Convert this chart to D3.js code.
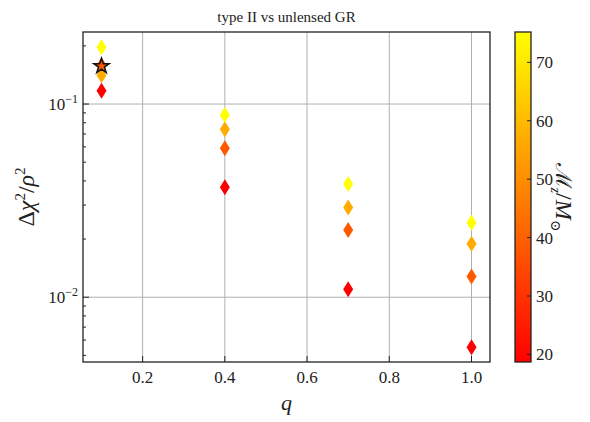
<!DOCTYPE html>
<html>
<head>
<meta charset="utf-8">
<script src="https://cdn.jsdelivr.net/npm/d3@7"></script>
<style>
  body { margin: 0; background: #fff; }
  text { font-family: "Liberation Serif", "DejaVu Serif", serif; fill: #222; }
</style>
</head>
<body>
<script>
// Data
const qValues = [0.1, 0.4, 0.7, 1.0];
const seriesMasses = [18.7, 38.5, 56.5, 75.2];
const seriesValues = [
  [0.117, 0.0371, 0.011, 0.0055],
  [0.159, 0.059, 0.0223, 0.0128],
  [0.141, 0.074, 0.0291, 0.0189],
  [0.197, 0.0877, 0.0385, 0.0243],
];
const starPoint = { q: 0.1, value: 0.159, mass: 38.5 };
const xTicks = [0.2, 0.4, 0.6, 0.8, 1.0];
const yMajorTicks = [0.01, 0.1];
const yMinorTicks = [0.005, 0.006, 0.007, 0.008, 0.009, 0.02, 0.03, 0.04, 0.05, 0.06, 0.07, 0.08, 0.09, 0.2];
const yTickExponents = ["\u22122", "\u22121"];
const cbarTicks = [20, 30, 40, 50, 60, 70];

const width = 590;
const height = 422;
const plot = { left: 83, right: 490, top: 32, bottom: 362 };
const cbar = { left: 515, right: 531 };

const svg = d3.select("body").append("svg")
  .attr("width", width)
  .attr("height", height);

const x = d3.scaleLinear().domain([0.055, 1.045]).range([plot.left, plot.right]);
const y = d3.scaleLog().domain([0.00462, 0.236]).range([plot.bottom, plot.top]);
const massExtent = d3.extent(seriesMasses);
const color = d3.scaleLinear().domain(massExtent).range(["#ff0000", "#ffff00"]);
const cbarScale = d3.scaleLinear().domain(massExtent).range([plot.bottom, plot.top]);

// Grid
const grid = svg.append("g").attr("stroke", "#b0b0b0").attr("stroke-width", 1);
grid.selectAll(".gx").data(xTicks).enter().append("line")
  .attr("x1", d => x(d)).attr("x2", d => x(d))
  .attr("y1", plot.top).attr("y2", plot.bottom);
grid.selectAll(".gy").data(yMajorTicks).enter().append("line")
  .attr("x1", plot.left).attr("x2", plot.right)
  .attr("y1", d => y(d)).attr("y2", d => y(d));

// Points (thin diamonds)
const diamond = "M0,-8L5,0L0,8L-5,0Z";
const points = [];
seriesValues.forEach((vals, s) => {
  vals.forEach((v, i) => points.push({ q: qValues[i], value: v, mass: seriesMasses[s] }));
});
svg.append("g").selectAll("path").data(points).enter().append("path")
  .attr("d", diamond)
  .attr("transform", d => `translate(${x(d.q)},${y(d.value)})`)
  .attr("fill", d => color(d.mass));

// Star marker
svg.append("path")
  .attr("d", d3.symbol().type(d3.symbolStar).size(72)())
  .attr("transform", `translate(${x(starPoint.q)},${y(starPoint.value) + 1})`)
  .attr("fill", color(starPoint.mass))
  .attr("stroke", "#111")
  .attr("stroke-width", 1.5)
  .attr("stroke-linejoin", "miter");

// Ticks (pointing inward)
const ticks = svg.append("g").attr("stroke", "#222").attr("stroke-width", 1);
ticks.selectAll(".tx").data(xTicks).enter().append("line")
  .attr("x1", d => x(d)).attr("x2", d => x(d))
  .attr("y1", plot.bottom).attr("y2", plot.bottom - 6);
ticks.selectAll(".tyM").data(yMajorTicks).enter().append("line")
  .attr("x1", plot.left).attr("x2", plot.left + 6)
  .attr("y1", d => y(d)).attr("y2", d => y(d));
ticks.selectAll(".tym").data(yMinorTicks).enter().append("line")
  .attr("x1", plot.left).attr("x2", plot.left + 3)
  .attr("y1", d => y(d)).attr("y2", d => y(d));

// Frame
svg.append("rect")
  .attr("x", plot.left).attr("y", plot.top)
  .attr("width", plot.right - plot.left).attr("height", plot.bottom - plot.top)
  .attr("fill", "none").attr("stroke", "#222").attr("stroke-width", 1.3);

// Tick labels
svg.append("g").selectAll("text").data(xTicks).enter().append("text")
  .attr("x", d => x(d)).attr("y", plot.bottom + 21)
  .attr("text-anchor", "middle")
  .style("font-size", "17px")
  .text(d3.format(".1f"));

const yLabels = svg.append("g").selectAll("text").data(yMajorTicks).enter().append("text")
  .attr("x", plot.left - 5).attr("y", d => y(d) + 6)
  .attr("text-anchor", "end")
  .style("font-size", "17px");
yLabels.append("tspan").text("10");
yLabels.append("tspan")
  .attr("dy", -7)
  .style("font-size", "12px")
  .text((d, i) => yTickExponents[i]);

// Title and axis labels
svg.append("text")
  .attr("x", (plot.left + plot.right) / 2).attr("y", 22)
  .attr("text-anchor", "middle")
  .style("font-size", "15px")
  .text("type II vs unlensed GR");

svg.append("text")
  .attr("x", (plot.left + plot.right) / 2).attr("y", 410)
  .attr("text-anchor", "middle")
  .style("font-size", "22px")
  .style("font-style", "italic")
  .text("q");

const yTitle = svg.append("text")
  .attr("transform", `translate(34,${(plot.top + plot.bottom) / 2}) rotate(-90)`)
  .attr("text-anchor", "middle")
  .style("font-size", "24px");
yTitle.append("tspan").text("\u0394");
yTitle.append("tspan").style("font-style", "italic").text("\u03c7");
yTitle.append("tspan").attr("dy", -9).style("font-size", "15px").text("2");
yTitle.append("tspan").attr("dy", 9).text("/");
yTitle.append("tspan").style("font-style", "italic").text("\u03c1");
yTitle.append("tspan").attr("dy", -9).style("font-size", "15px").text("2");

// Colorbar
const defs = svg.append("defs");
const grad = defs.append("linearGradient")
  .attr("id", "cbar-grad")
  .attr("x1", 0).attr("y1", 1).attr("x2", 0).attr("y2", 0);
grad.append("stop").attr("offset", "0%").attr("stop-color", color(massExtent[0]));
grad.append("stop").attr("offset", "100%").attr("stop-color", color(massExtent[1]));

svg.append("rect")
  .attr("x", cbar.left).attr("y", plot.top)
  .attr("width", cbar.right - cbar.left).attr("height", plot.bottom - plot.top)
  .attr("fill", "url(#cbar-grad)")
  .attr("stroke", "#222").attr("stroke-width", 1.3);

svg.append("g").attr("stroke", "#222").selectAll("line").data(cbarTicks).enter().append("line")
  .attr("x1", cbar.right).attr("x2", cbar.right - 4)
  .attr("y1", d => cbarScale(d)).attr("y2", d => cbarScale(d));

svg.append("g").selectAll("text").data(cbarTicks).enter().append("text")
  .attr("x", cbar.right + 5).attr("y", d => cbarScale(d) + 6)
  .style("font-size", "17px")
  .text(d => d);

const cTitle = svg.append("text")
  .attr("transform", `translate(556,${(plot.top + plot.bottom) / 2}) rotate(90)`)
  .attr("text-anchor", "middle")
  .style("font-size", "24px");
cTitle.append("tspan").style("font-family", "'DejaVu Serif', serif").style("font-size", "22px").text("\u2133");
cTitle.append("tspan").attr("dy", 5).style("font-size", "14px").style("font-style", "italic").text("z");
cTitle.append("tspan").attr("dy", -5).text("/");
cTitle.append("tspan").style("font-style", "italic").text("M");
cTitle.append("tspan").attr("dy", 5).style("font-size", "14px").text("\u2299");
</script>
</body>
</html>
